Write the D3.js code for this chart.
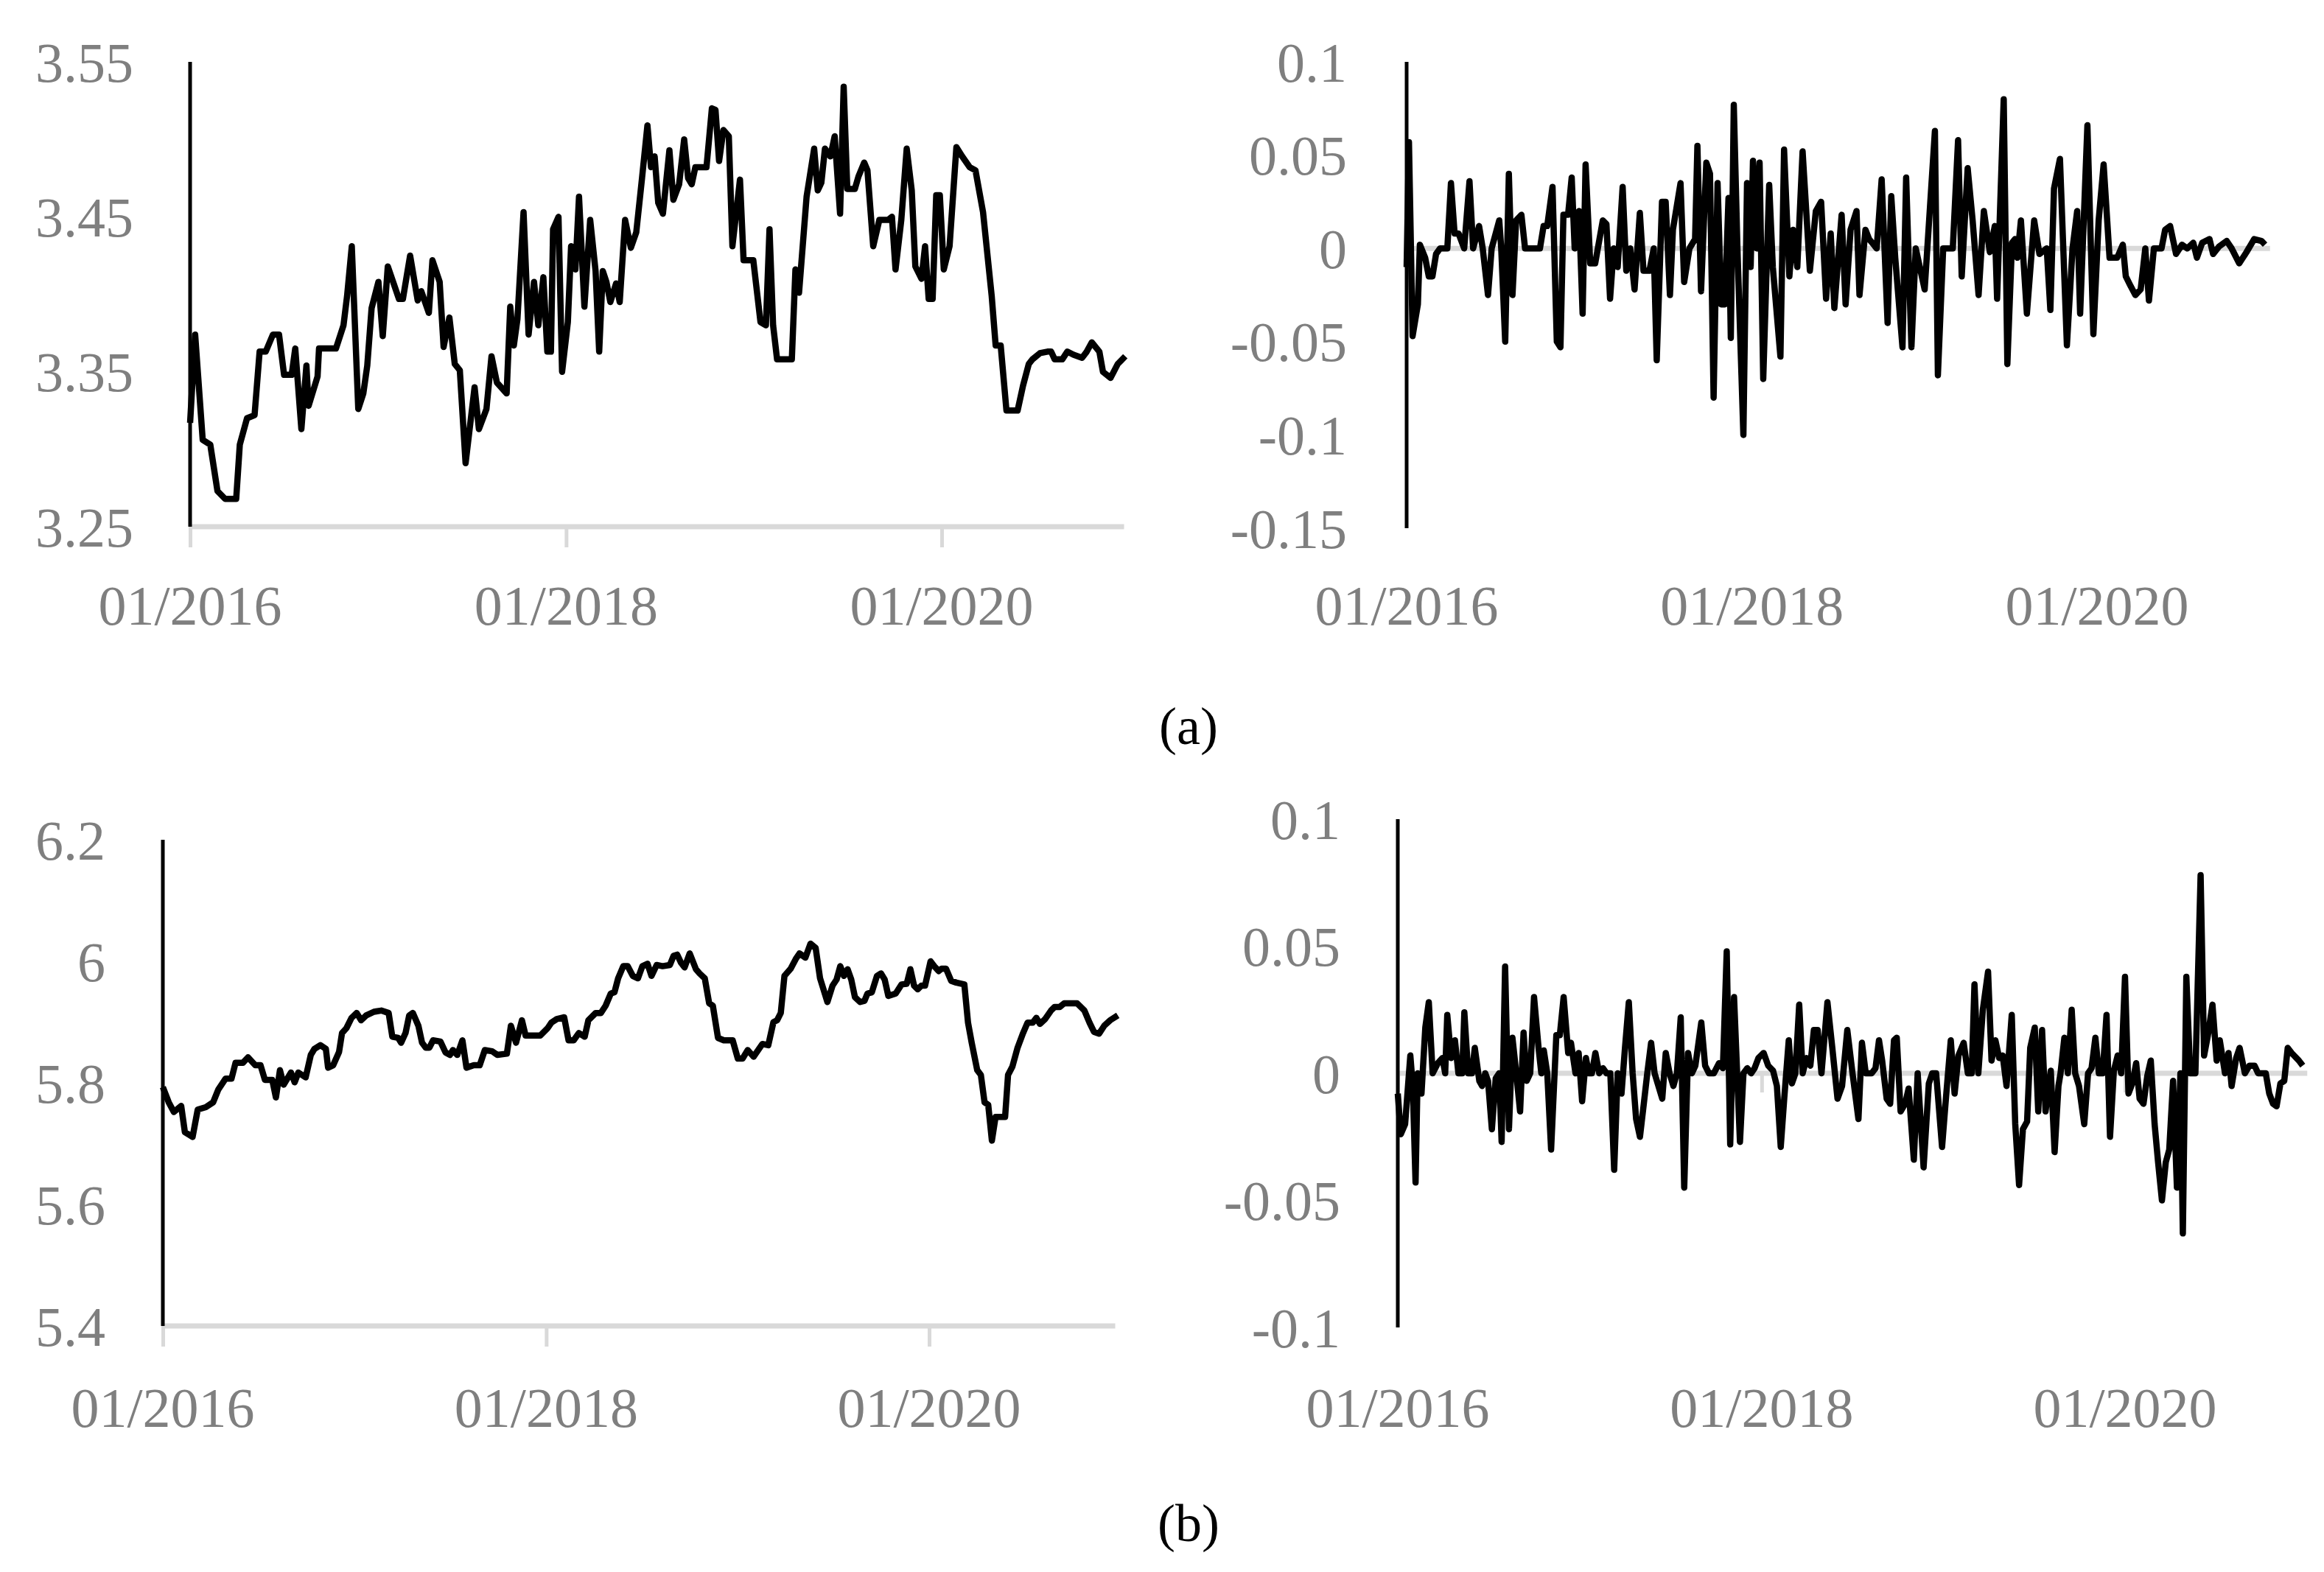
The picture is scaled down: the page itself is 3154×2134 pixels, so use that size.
<!DOCTYPE html>
<html><head><meta charset="utf-8">
<script src="https://cdn.jsdelivr.net/npm/d3@7"></script>
<style>body{margin:0;background:#fff}svg{display:block}</style>
</head><body>
<script>
// weeks since 2016-01-01 and values
const aPriceWeeks=[0,1.4,3.5,5.6,7.6,9.7,12.8,13.8,15.8,17.9,19.3,21.0,23.0,24.7,26.1,28.2,29.2,30.9,32.3,32.9,35.4,35.8,40.5,42.6,43.6,44.9,46.7,48.1,49.2,50.4,52.3,53.5,54.9,58.0,59.1,61.1,63.2,64.2,66.3,67.3,69.3,70.4,72.0,73.5,74.9,76.5,79.0,80.2,82.3,83.7,85.2,87.9,88.9,89.9,90.9,92.6,94.0,95.5,96.7,98.1,99.2,100.2,100.8,102.3,103.3,104.9,105.8,107.0,108.0,109.5,111.1,112.6,113.6,114.6,115.6,116.7,118.3,119.3,120.8,122.4,123.9,125.5,127.0,128.0,129.0,130.0,131.3,133.1,134.2,135.8,137.2,138.3,139.3,140.3,143.4,144.9,145.9,146.9,148.1,149.6,150.6,152.7,153.7,156.4,158.4,159.9,160.9,161.9,163.0,167.1,168.1,169.1,171.2,173.3,174.3,175.3,176.3,177.8,179.0,180.5,181.5,182.5,184.6,185.6,187.2,188.1,189.7,191.4,193.8,194.9,195.9,197.5,199.0,200.4,201.4,203.1,204.1,205.1,206.2,207.2,208.2,209.3,210.9,212.8,214.4,216.5,218.1,220.2,222.6,223.7,225.1,226.7,229.8,231.3,232.9,233.9,236.0,238.1,239.1,240.1,242.2,243.6,245.3,247.7,249.0,250.4,252.5,253.5,255.6,257.6,259.7];
const aPriceValues=[3.317,3.374,3.306,3.303,3.273,3.268,3.268,3.303,3.32,3.322,3.363,3.363,3.374,3.374,3.348,3.348,3.365,3.313,3.354,3.328,3.347,3.365,3.365,3.38,3.399,3.431,3.326,3.336,3.354,3.391,3.408,3.373,3.418,3.397,3.397,3.425,3.396,3.402,3.388,3.422,3.408,3.366,3.385,3.355,3.351,3.291,3.34,3.313,3.326,3.36,3.343,3.336,3.392,3.367,3.384,3.453,3.374,3.408,3.38,3.411,3.363,3.363,3.442,3.45,3.35,3.382,3.431,3.416,3.463,3.392,3.448,3.415,3.363,3.415,3.408,3.395,3.407,3.395,3.448,3.43,3.44,3.475,3.509,3.482,3.489,3.459,3.452,3.493,3.461,3.471,3.5,3.475,3.471,3.482,3.482,3.52,3.519,3.486,3.506,3.502,3.431,3.474,3.422,3.422,3.382,3.38,3.442,3.38,3.358,3.358,3.416,3.401,3.463,3.494,3.467,3.472,3.494,3.489,3.502,3.452,3.534,3.468,3.468,3.476,3.485,3.48,3.431,3.448,3.448,3.45,3.416,3.448,3.494,3.467,3.418,3.41,3.431,3.397,3.397,3.464,3.464,3.416,3.431,3.495,3.489,3.482,3.48,3.453,3.399,3.367,3.367,3.325,3.325,3.341,3.355,3.358,3.362,3.363,3.363,3.358,3.358,3.363,3.361,3.359,3.363,3.369,3.363,3.35,3.346,3.355,3.36];

const aRetWeeks=[0,0.7,1.8,3.4,4.0,5.6,6.7,7.8,8.9,10.1,12.3,13.4,14.5,15.7,17.4,19.0,20.1,21.9,23.0,24.6,25.7,28.0,28.6,29.8,30.9,32.0,33.1,34.7,35.8,40.3,41.4,42.5,44.1,45.4,46.5,47.4,48.8,49.9,50.8,52.1,53.2,54.1,55.5,57.0,59.3,60.4,61.5,62.6,63.8,65.3,66.4,67.6,68.9,70.5,71.6,73.4,74.7,75.6,77.2,78.3,79.6,80.5,82.8,83.9,85.5,87.2,87.9,89.0,90.6,91.7,92.8,94.0,95.1,96.2,97.3,98.0,98.9,100.0,101.8,102.9,104.0,104.7,105.8,106.7,107.8,109.6,110.7,113.0,114.1,115.7,116.8,118.1,119.7,121.9,123.7,125.3,126.8,128.2,129.3,131.5,132.7,134.2,136.0,136.9,138.7,139.8,142.1,143.6,145.4,146.5,147.7,149.9,151.0,152.6,153.9,156.6,159.7,160.6,162.2,165.1,166.7,167.8,169.6,171.1,172.9,174.5,176.3,177.8,178.5,180.5,181.6,183.0,183.9,184.6,185.7,187.5,189.7,191.3,193.5,194.6,195.7,197.5,199.6,201.3,202.7,203.6,205.8,207.6,209.2,210.7,212.5,214.8,216.5,217.4,218.8,220.3,221.9,223.3,224.4,225.9,228.2,229.3,230.8,232.6,234.4,236.0,237.8,238.9,240.5,242.7,243.8,245.6,247.9,249.4,251.7,253.9,256.2,258.4,259.5];
const aRetValues=[-0.01,0.057,-0.047,-0.03,0.002,-0.005,-0.015,-0.015,-0.003,0,0,0.035,0.008,0.008,0,0.036,0,0.012,0,-0.025,0,0.015,0,-0.05,0.04,-0.025,0.015,0.018,0,0,0.012,0.012,0.033,-0.05,-0.053,0.018,0.018,0.038,0,0.02,-0.035,0.045,-0.008,-0.008,0.015,0.013,-0.027,0,-0.01,0.033,-0.012,0,-0.022,0.019,-0.012,-0.012,0,-0.06,0.025,0.025,-0.025,0.01,0.035,-0.018,0,0.005,0.055,-0.023,0.046,0.04,-0.08,0.035,-0.03,-0.03,0.027,-0.048,0.077,0,-0.1,0.035,-0.01,0.047,0,0.046,-0.07,0.034,-0.01,-0.058,0.053,-0.015,0.01,-0.01,0.052,-0.012,0.02,0.025,-0.027,0.008,-0.032,0.018,-0.03,0.01,0.02,-0.025,0.01,0.005,0,0.037,-0.04,0.028,-0.005,-0.053,0.038,-0.053,0,-0.022,0.063,-0.068,0,0,0.058,-0.015,0.043,0.015,-0.025,0.02,-0.002,0.012,-0.027,0.08,-0.062,0.003,0.005,-0.005,0.015,-0.035,0.015,-0.003,0,-0.033,0.032,0.048,-0.052,0,0.02,-0.035,0.066,-0.046,0.015,0.045,-0.005,-0.005,0.002,-0.015,-0.02,-0.025,-0.022,0,-0.028,0,0,0.01,0.012,-0.003,0.002,0,0.003,-0.005,0.003,0.005,-0.003,0.001,0.004,0,-0.008,-0.002,0.005,0.004,0.002];

const bPriceWeeks=[0,1.6,3.0,5.0,6.0,8.1,9.5,11.7,13.7,15.1,17.1,18.7,19.8,21.8,23.2,25.2,26.6,27.8,29.8,30.8,31.9,32.9,34.9,35.9,36.9,38.9,40.3,41.3,42.9,44.4,45.0,46.4,48.0,48.8,50.0,51.4,52.8,54.0,55.4,57.5,59.5,61.5,62.5,64.1,64.9,66.1,67.1,68.1,69.6,70.6,71.6,72.6,73.6,75.6,77.0,78.2,79.0,80.2,81.6,82.7,84.7,86.3,87.7,89.7,91.1,93.7,94.8,96.2,97.8,98.8,102.8,104.8,105.8,107.3,109.3,110.5,111.9,113.3,114.9,115.9,117.9,119.3,120.6,122.0,123.0,124.0,125.4,126.6,128.0,129.4,130.6,132.0,133.1,134.5,136.1,138.1,139.1,140.1,141.1,142.1,143.5,145.2,146.2,147.6,148.8,149.8,151.2,152.8,155.2,156.6,157.9,159.3,160.9,163.3,164.9,166.3,167.3,168.3,169.3,171.0,172.4,173.4,175.0,176.4,177.8,179.0,181.0,182.4,183.5,184.5,185.5,186.5,187.5,188.5,189.9,191.1,191.9,193.1,194.5,195.6,196.6,197.6,199.6,201.2,202.6,203.6,204.6,205.6,206.6,207.6,209.1,210.1,211.3,212.1,213.3,214.7,216.1,218.3,219.3,220.3,221.8,222.8,223.8,224.8,225.8,226.8,229.4,230.2,231.4,232.8,234.3,235.5,236.9,237.9,238.9,240.3,241.9,242.9,244.3,245.5,249.0,251.0,252.4,253.6,255.0,256.4,258.0,260.1];
const bPriceValues=[5.793,5.768,5.752,5.762,5.719,5.711,5.756,5.76,5.768,5.789,5.807,5.807,5.833,5.833,5.842,5.829,5.829,5.805,5.805,5.776,5.821,5.797,5.817,5.801,5.817,5.809,5.846,5.856,5.862,5.856,5.825,5.829,5.851,5.882,5.89,5.907,5.915,5.903,5.911,5.917,5.919,5.915,5.876,5.874,5.866,5.882,5.911,5.915,5.894,5.866,5.858,5.858,5.87,5.868,5.85,5.846,5.854,5.846,5.87,5.825,5.829,5.829,5.854,5.852,5.846,5.848,5.894,5.866,5.903,5.878,5.878,5.89,5.899,5.905,5.908,5.87,5.87,5.882,5.876,5.903,5.915,5.915,5.927,5.947,5.949,5.972,5.992,5.992,5.976,5.972,5.992,5.996,5.976,5.994,5.992,5.994,6.009,6.011,5.998,5.99,6.013,5.987,5.98,5.972,5.931,5.927,5.874,5.87,5.87,5.84,5.84,5.854,5.843,5.864,5.862,5.9,5.903,5.915,5.976,5.988,6.004,6.013,6.006,6.029,6.022,5.972,5.933,5.96,5.97,5.992,5.976,5.987,5.97,5.941,5.933,5.935,5.947,5.949,5.976,5.98,5.97,5.943,5.947,5.962,5.963,5.987,5.96,5.954,5.96,5.96,6.0,5.992,5.984,5.988,5.988,5.968,5.965,5.962,5.899,5.866,5.821,5.813,5.768,5.764,5.705,5.744,5.744,5.813,5.827,5.858,5.882,5.899,5.899,5.907,5.897,5.905,5.919,5.925,5.925,5.931,5.931,5.919,5.899,5.884,5.881,5.894,5.903,5.911];

const bRetWeeks=[0,0.85,2.1,3.6,4.3,5.1,5.7,6.8,7.9,8.9,10.0,11.5,12.8,13.6,14.2,15.3,16.4,17.4,18.5,19.1,20.2,21.3,22.1,23.4,24.2,25.1,25.9,27.0,28.1,29.1,29.8,30.8,31.9,32.9,34.0,35.1,36.1,37.0,38.0,39.1,40.4,41.2,41.9,42.9,44.0,45.5,46.5,47.6,48.9,49.7,51.0,51.9,52.9,54.0,54.8,55.7,56.7,57.8,58.9,59.9,61.0,62.1,63.1,64.2,65.2,66.3,67.4,68.4,69.5,70.6,71.6,72.7,73.7,74.8,75.9,76.9,78.0,79.1,80.1,81.2,82.2,83.3,84.4,85.4,87.1,88.2,89.3,90.7,92.2,93.3,94.4,95.4,96.5,97.3,98.2,99.2,100.3,101.4,102.4,103.5,105.0,106.3,107.7,108.8,109.9,110.9,112.2,113.1,114.1,115.2,116.2,117.3,118.4,119.4,120.5,121.6,123.3,124.7,126.2,127.5,129.0,130.5,132.2,133.2,134.3,136.0,137.1,138.1,139.0,140.3,141.3,142.4,143.2,144.3,145.6,146.6,148.1,149.2,150.9,152.4,153.4,154.5,156.2,157.3,158.7,159.8,160.9,162.4,163.6,164.7,165.5,166.6,167.9,169.4,170.4,171.5,172.6,173.6,174.7,176.2,177.2,178.3,179.4,180.6,181.5,182.8,183.8,184.9,185.9,187.4,188.5,189.6,190.2,191.3,192.3,193.4,194.4,195.5,197.0,198.1,199.1,200.2,201.2,202.3,203.4,204.4,205.5,206.6,207.6,208.7,209.7,210.8,211.9,212.9,214.0,215.1,216.1,217.2,218.2,219.3,220.4,221.4,222.5,223.6,224.6,225.3,226.3,227.4,228.9,230.4,231.4,232.5,233.8,235.0,235.9,237.4,238.4,239.3,240.6,241.6,243.1,244.4,245.9,246.9,249.1,250.1,251.2,252.2,253.3,254.4,255.4,256.5,258.6,259.7];
const bRetValues=[-0.008,-0.024,-0.02,0.007,-0.005,-0.043,0,-0.008,0.018,0.028,0,0.004,0.006,0,0.023,0.006,0.013,0,0,0.024,0,0,0.01,-0.003,-0.005,0,-0.003,-0.022,-0.002,0,-0.027,0.042,-0.022,0.014,0,-0.015,0.016,-0.003,0,0.03,0.01,0,0.009,0,-0.03,0.015,0.015,0.03,0.008,0.012,0,0.008,-0.011,0.006,0,0,0.008,0,0.002,0,0,-0.038,0,-0.008,0.01,0.028,0,-0.018,-0.025,-0.012,0,0.012,0,-0.005,-0.01,0.008,0,-0.005,0,0.022,-0.045,0.008,0,0.003,0.02,0.003,0,0,0.004,0.002,0.048,-0.028,0.03,0.003,-0.027,0,0.002,0,0.002,0.006,0.008,0.003,0.001,-0.005,-0.029,-0.01,0.013,-0.004,0,0.027,0,0.006,0.003,0.017,0.017,0,0.028,0.01,-0.01,-0.005,0.017,0,-0.018,0.012,0,0,0.002,0.013,0.005,-0.01,-0.012,0.013,0.014,-0.015,-0.012,-0.006,-0.034,0,-0.037,-0.004,0,0,-0.029,-0.01,0.013,-0.008,0.007,0.012,0,0,0.035,0,0.025,0.04,0.005,0.013,0.006,0.007,-0.005,0.023,-0.02,-0.044,-0.022,-0.019,0.01,0.018,-0.015,0.017,-0.015,0.001,-0.031,-0.005,0,0.014,0,0.025,0,-0.005,-0.02,0,0.002,0.014,0,0,0.023,-0.025,0.001,0.007,0,0.038,-0.008,-0.004,0.004,-0.01,-0.012,-0.001,0.005,-0.02,-0.035,-0.05,-0.035,-0.03,-0.003,-0.045,0,-0.063,0.038,0,0,0.078,0.007,0.015,0.027,0.005,0.013,0,0.008,-0.005,0.006,0.01,0,0.003,0.003,0,0,-0.008,-0.012,-0.013,-0.004,-0.003,0.01,0.008,0.005,0.003];

const xTickDates=["2016-01-01","2018-01-01","2020-01-01"];
const xTickLabels=["01/2016","01/2018","01/2020"];
const aPriceTicks=[3.25,3.35,3.45,3.55], aPriceTickLabels=["3.25","3.35","3.45","3.55"];
const aRetTicks=[-0.15,-0.1,-0.05,0,0.05,0.1], aRetTickLabels=["-0.15","-0.1","-0.05","0","0.05","0.1"];
const bPriceTicks=[5.4,5.6,5.8,6.0,6.2], bPriceTickLabels=["5.4","5.6","5.8","6","6.2"];
const bRetTicks=[-0.1,-0.05,0,0.05,0.1], bRetTickLabels=["-0.1","-0.05","0","0.05","0.1"];
const panelLabels=["(a)","(b)"];

const W=3154,H=2134,FONT="'Liberation Serif', 'DejaVu Serif', serif";
const svg=d3.select("body").append("svg").attr("width",W).attr("height",H);
const parse=d3.timeParse("%Y-%m-%d");
const t0=parse("2016-01-01");
const wk=w=>d3.timeMillisecond.offset(t0, Math.round(w*7*86400000));

function panel(o){
  const x=d3.scaleTime().domain([parse("2016-01-01"),parse("2020-01-01")]).range([o.x0,o.x2020]);
  const y=d3.scaleLinear().domain(o.ydom).range([o.yb,o.yt]);
  const g=svg.append("g");
  const xEnd=x(parse("2021-01-01"))+o.extra;
  const axisY=y(o.axisVal);
  const xa=d3.axisBottom(x).tickValues(xTickDates.map(parse)).tickFormat(()=>"").tickSize(o.tick).tickSizeOuter(0);
  const ag=g.append("g").attr("transform",`translate(0,${axisY})`).call(xa);
  ag.select(".domain").remove();
  ag.selectAll("line").attr("stroke","#d9d9d9").attr("stroke-width",5);
  g.append("line").attr("x1",o.x0).attr("x2",xEnd).attr("y1",axisY).attr("y2",axisY).attr("stroke","#d9d9d9").attr("stroke-width",7);
  g.selectAll(".xl").data(xTickDates).enter().append("text").attr("x",d=>x(parse(d))).attr("y",o.xlab)
    .attr("text-anchor","middle").attr("font-family",FONT).attr("font-size",76).attr("fill","#7f7f7f").text((d,i)=>xTickLabels[i]);
  g.selectAll(".yl").data(o.ticks).enter().append("text").attr("x",o.ylx).attr("y",d=>y(d)).attr("dy","0.35em")
    .attr("text-anchor","end").attr("font-family",FONT).attr("font-size",76).attr("fill","#7f7f7f").text((d,i)=>o.labels[i]);
  g.append("line").attr("x1",o.x0).attr("x2",o.x0).attr("y1",y(o.ydom[1])).attr("y2",y(o.ydom[0])).attr("stroke","#000").attr("stroke-width",5);
  const data=o.weeks.map((w,i)=>[wk(w),o.vals[i]]);
  g.append("path").datum(data).attr("fill","none").attr("stroke","#000").attr("stroke-width",8.5).attr("stroke-linejoin","round")
    .attr("d",d3.line().x(d=>x(d[0])).y(d=>y(d[1])));
}
panel({x0:258,x2020:1278,yt:84,yb:715,ydom:[3.25,3.55],axisVal:3.25,tick:28,extra:-8,xlab:848,ylx:181,ticks:aPriceTicks,labels:aPriceTickLabels,weeks:aPriceWeeks,vals:aPriceValues});
panel({x0:1909,x2020:2846,yt:84,yb:717,ydom:[-0.15,0.1],axisVal:0,tick:0,extra:0,xlab:848,ylx:1828,ticks:aRetTicks,labels:aRetTickLabels,weeks:aRetWeeks,vals:aRetValues});
panel({x0:221,x2020:1261,yt:1140,yb:1800,ydom:[5.4,6.2],axisVal:5.4,tick:28,extra:-8,xlab:1937,ylx:143,ticks:bPriceTicks,labels:bPriceTickLabels,weeks:bPriceWeeks,vals:bPriceValues});
panel({x0:1897,x2020:2884,yt:1112,yb:1802,ydom:[-0.1,0.1],axisVal:0,tick:26,extra:0,xlab:1937,ylx:1819,ticks:bRetTicks,labels:bRetTickLabels,weeks:bRetWeeks,vals:bRetValues});
svg.selectAll(".pl").data(panelLabels).enter().append("text").attr("x",1613).attr("y",(d,i)=>[1010,2092][i])
  .attr("text-anchor","middle").attr("font-family",FONT).attr("font-size",72).attr("fill","#000").text(d=>d);
</script>
</body></html>
